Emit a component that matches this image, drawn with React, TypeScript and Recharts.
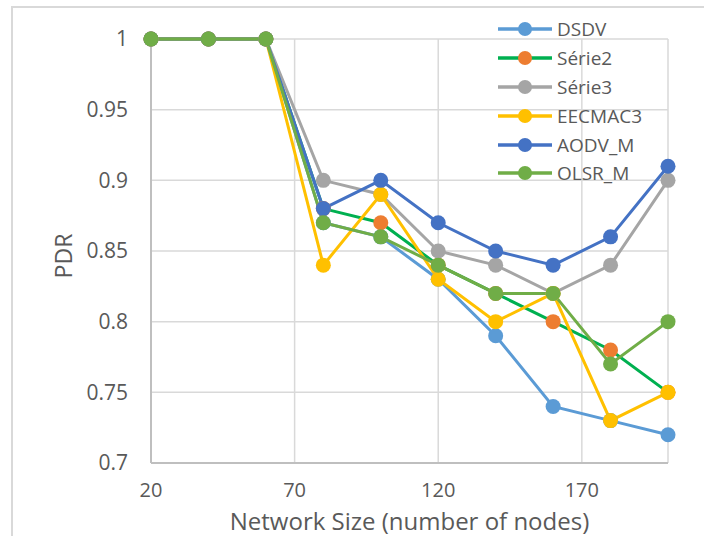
import React from 'react';
import { LineChart, Line, XAxis, YAxis, CartesianGrid } from 'recharts';

// network sizes (number of nodes)
const nodes = [20, 40, 60, 80, 100, 120, 140, 160, 180, 200];

const dsdv = [1, 1, 1, 0.87, 0.86, 0.83, 0.79, 0.74, 0.73, 0.72];
const serie2 = [1, 1, 1, 0.88, 0.87, 0.84, 0.82, 0.8, 0.78, 0.75];
const serie3 = [1, 1, 1, 0.9, 0.89, 0.85, 0.84, 0.82, 0.84, 0.9];
const eecmac3 = [1, 1, 1, 0.84, 0.89, 0.83, 0.8, 0.82, 0.73, 0.75];
const aodvM = [1, 1, 1, 0.88, 0.9, 0.87, 0.85, 0.84, 0.86, 0.91];
const olsrM = [1, 1, 1, 0.87, 0.86, 0.84, 0.82, 0.82, 0.77, 0.8];

const xTicks = [20, 70, 120, 170];
const yTicks = [0.7, 0.75, 0.8, 0.85, 0.9, 0.95, 1];

const series = [
  { key: 'DSDV', values: dsdv, line: '#5B9BD5', dot: '#5B9BD5' },
  { key: 'Série2', values: serie2, line: '#00B050', dot: '#ED7D31' },
  { key: 'Série3', values: serie3, line: '#A5A5A5', dot: '#A5A5A5' },
  { key: 'EECMAC3', values: eecmac3, line: '#FFC000', dot: '#FFC000' },
  { key: 'AODV_M', values: aodvM, line: '#4472C4', dot: '#4472C4' },
  { key: 'OLSR_M', values: olsrM, line: '#70AD47', dot: '#70AD47' },
];

const data = nodes.map((n, i) => {
  const row: { [k: string]: number } = { x: n };
  series.forEach(s => { row[s.key] = s.values[i]; });
  return row;
});

const FONT = '"Open Sans", "Liberation Sans", sans-serif';
const TEXT = '#595959';

// legend drawn on top of the plot, like Excel does
const LegendBox = () => (
  <div style={{ position: 'absolute', left: 496, top: 15, fontFamily: FONT, fontSize: 19, color: TEXT }}>
    {series.map(s => (
      <div key={s.key} style={{ display: 'flex', alignItems: 'center', height: 28.8 }}>
        <svg width={60} height={20}>
          <line x1={2} y1={10} x2={56} y2={10} stroke={s.line} strokeWidth={3.3} />
          <circle cx={29} cy={10} r={7} fill={s.dot} />
        </svg>
        <span style={{ marginLeft: 1, lineHeight: '20px' }}>{s.key}</span>
      </div>
    ))}
  </div>
);

const PdrLabel = () => (
  <text x={63} y={256} transform="rotate(-90 63 256)" textAnchor="middle" dominantBaseline="central"
    fill={TEXT} fontSize={23} fontFamily={FONT}>PDR</text>
);

export default function App() {
  return (
    <div style={{ position: 'absolute', left: 0, top: 0, width: 704, height: 536, overflow: 'hidden', background: '#fff' }}>
      <div style={{ position: 'absolute', left: 11, top: 6, width: 800, height: 700, borderLeft: '2px solid #d9d9d9', borderTop: '2px solid #d9d9d9' }} />
      <LineChart
        width={704}
        height={536}
        data={data}
        margin={{ top: 39, right: 36, left: 51, bottom: 6 }}
        style={{ position: 'absolute', left: 0, top: 0, fontFamily: FONT }}
      >
        <CartesianGrid stroke="#d9d9d9" strokeWidth={1.5} />
        <XAxis
          dataKey="x"
          type="number"
          domain={[20, 200]}
          ticks={xTicks}
          interval={0}
          height={67}
          tickLine={false}
          tickSize={0}
          tickMargin={20}
          axisLine={{ stroke: '#bfbfbf', strokeWidth: 2 }}
          tick={{ fill: TEXT, fontSize: 20, fontFamily: FONT }}
          label={{ value: 'Network Size (number of nodes)', position: 'insideBottom', offset: 0, fill: TEXT, fontSize: 24, fontFamily: FONT }}
        />
        <YAxis
          type="number"
          domain={[0.7, 1]}
          ticks={yTicks}
          interval={0}
          width={100}
          tickLine={false}
          tickSize={0}
          tickMargin={23}
          axisLine={{ stroke: '#bfbfbf', strokeWidth: 2 }}
          tick={{ fill: TEXT, fontSize: 21, fontFamily: FONT }}
          tickFormatter={(v: number) => String(v)}
          label={{ value: 'PDR', content: () => <PdrLabel /> }}
        />
        {series.map(s => (
          <Line
            key={s.key}
            dataKey={s.key}
            stroke={s.line}
            strokeWidth={3}
            dot={{ r: 7.5, fill: s.dot, stroke: s.dot, strokeWidth: 0 }}
            activeDot={false}
            isAnimationActive={false}
          />
        ))}
      </LineChart>
      <LegendBox />
    </div>
  );
}
